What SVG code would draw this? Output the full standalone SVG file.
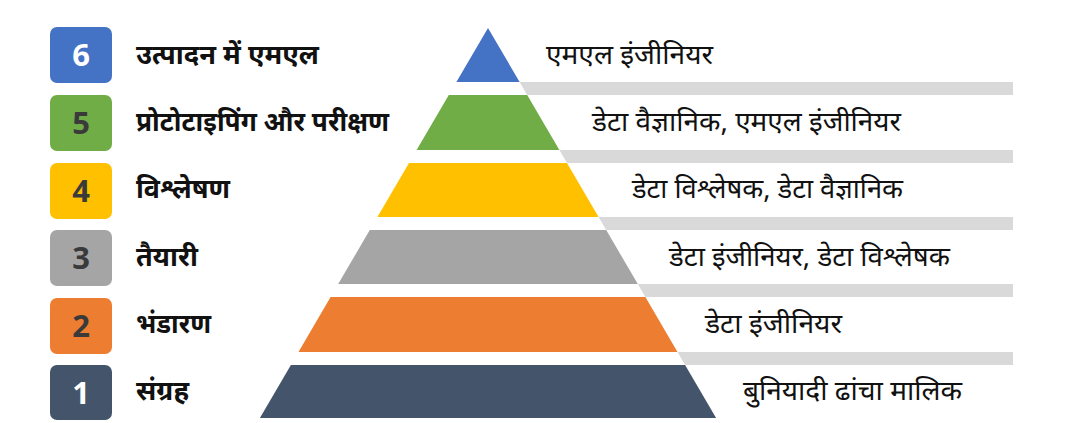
<svg xmlns="http://www.w3.org/2000/svg" width="1077" height="423" viewBox="0 0 1077 423">
<style>
.num{font-family:"Open Sans","Liberation Sans",sans-serif;font-weight:700;font-size:31px;text-anchor:middle}
.lt{font-family:"Noto Sans","Noto Sans Devanagari",sans-serif;font-weight:700;font-size:27px;fill:#111}
.rt{font-family:"Noto Sans","Noto Sans Devanagari",sans-serif;font-size:27px;fill:#111}
.band{fill:#d9d9d9}
</style>
<rect width="1077" height="423" fill="#ffffff"/>
<g id="bands">
<polygon class="band" points="519.6,82 1013,82 1013,95 527.2,95"/>
<polygon class="band" points="559.4,150 1013,150 1013,163 567,163"/>
<polygon class="band" points="598.6,217 1013,217 1013,230 606.2,230"/>
<polygon class="band" points="637.8,284 1013,284 1013,297 645.4,297"/>
<polygon class="band" points="677.5,352 1013,352 1013,365 685.1,365"/>
</g>
<g id="level6">
<rect x="50" y="27" width="62" height="56" rx="7" fill="#4472C4"/>
<text class="num" x="81" y="66" fill="#ffffff">6</text>
<text class="lt" x="136" y="64" textLength="183" lengthAdjust="spacingAndGlyphs">उत्पादन में एमएल</text>
<polygon points="488,28 456.4,82 519.6,82" fill="#4472C4"/>
<text class="rt" x="546" y="64" textLength="167" lengthAdjust="spacingAndGlyphs">एमएल इंजीनियर</text>
</g>
<g id="level5">
<rect x="50" y="95" width="62" height="56" rx="7" fill="#70AD47"/>
<text class="num" x="81" y="134" fill="#3a3a3a">5</text>
<text class="lt" x="136" y="131" textLength="253" lengthAdjust="spacingAndGlyphs">प्रोटोटाइपिंग और परीक्षण</text>
<polygon points="448.8,95 527.2,95 559.4,150 416.6,150" fill="#70AD47"/>
<text class="rt" x="592" y="131" textLength="309" lengthAdjust="spacingAndGlyphs">डेटा वैज्ञानिक, एमएल इंजीनियर</text>
</g>
<g id="level4">
<rect x="50" y="163" width="62" height="56" rx="7" fill="#FFC000"/>
<text class="num" x="81" y="202" fill="#3a3a3a">4</text>
<text class="lt" x="136" y="198" textLength="94" lengthAdjust="spacingAndGlyphs">विश्लेषण</text>
<polygon points="409,163 567,163 598.6,217 377.4,217" fill="#FFC000"/>
<text class="rt" x="632" y="198" textLength="271" lengthAdjust="spacingAndGlyphs">डेटा विश्लेषक, डेटा वैज्ञानिक</text>
</g>
<g id="level3">
<rect x="50" y="230" width="62" height="56" rx="7" fill="#A5A5A5"/>
<text class="num" x="81" y="269" fill="#3a3a3a">3</text>
<text class="lt" x="136" y="266" textLength="62" lengthAdjust="spacingAndGlyphs">तैयारी</text>
<polygon points="369.8,230 606.2,230 637.8,284 338.2,284" fill="#A5A5A5"/>
<text class="rt" x="669" y="266" textLength="281" lengthAdjust="spacingAndGlyphs">डेटा इंजीनियर, डेटा विश्लेषक</text>
</g>
<g id="level2">
<rect x="50" y="298" width="62" height="56" rx="7" fill="#ED7D31"/>
<text class="num" x="81" y="337" fill="#3a3a3a">2</text>
<text class="lt" x="136" y="333" textLength="75" lengthAdjust="spacingAndGlyphs">भंडारण</text>
<polygon points="330.6,297 645.4,297 677.5,352 298.5,352" fill="#ED7D31"/>
<text class="rt" x="705" y="333" textLength="137" lengthAdjust="spacingAndGlyphs">डेटा इंजीनियर</text>
</g>
<g id="level1">
<rect x="50" y="365" width="62" height="55" rx="7" fill="#44546A"/>
<text class="num" x="81" y="404" fill="#ffffff">1</text>
<text class="lt" x="136" y="400" textLength="53" lengthAdjust="spacingAndGlyphs">संग्रह</text>
<polygon points="290.9,365 685.1,365 716.1,418 259.9,418" fill="#44546A"/>
<text class="rt" x="743" y="400" textLength="219" lengthAdjust="spacingAndGlyphs">बुनियादी ढांचा मालिक</text>
</g>
</svg>
